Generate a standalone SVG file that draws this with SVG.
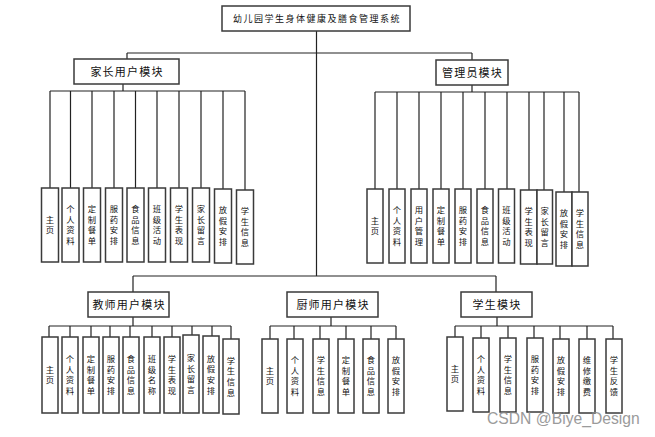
<svg xmlns="http://www.w3.org/2000/svg" width="655" height="437" viewBox="0 0 655 437">
<style>
.bx{fill:#fff;stroke:#3a3a3a;stroke-width:1.5}
.ln{stroke:#222;stroke-width:1.2;fill:none}
.t{font-family:"Noto Sans CJK SC","Liberation Sans",sans-serif;fill:#111}
.ti{font-size:9px;letter-spacing:1.5px}
.m{font-size:11px;letter-spacing:1.2px}
.c{font-family:"Liberation Sans","Noto Sans CJK SC",sans-serif;font-size:8.3px;fill:#111;text-anchor:middle}
.wm{font-family:"Liberation Sans",Arial,sans-serif;font-size:15.7px;fill:#8a8a8a;opacity:0.85}
</style>
<rect width="655" height="437" fill="#fff"/>
<g id="connectors">
<path class="ln" d="M316.5 31V276M127 53H472M127 53V59M472 53V60M123 84V91M472 85V92M133 276H496M133 276V292M496 276V292M133 317V326M331 317V326M497 317V326"/>
<path class="ln" d="M50 91H245M50 91V188M70.5 91V188M92 91V188M114 91V188M135.5 91V188M157 91V188M179 91V188M201 91V188M223 91V189M245 91V190"/>
<path class="ln" d="M375 92H579M375 92V189M397 92V189M419 92V189M441 92V189M463 92V189M485 92V189M507 92V189M529 92V190M544 92V190M564 92V192M579 92V192"/>
<path class="ln" d="M49 326H231M49 326V337M70 326V337M91 326V337M110 326V337M130 326V337M152 326V337M172 326V337M192 326V335M212 326V336M231 326V339"/>
<path class="ln" d="M270 326H396M270 326V339M294 326V339M320 326V339M346 326V339M371 326V339M396 326V339"/>
<path class="ln" d="M455 326H613M455 326V337M481 326V338M508 326V338M534 326V338M560 326V339M587 326V339M613 326V339"/>
</g>
<g id="root"><rect class="bx" x="222" y="6" width="188" height="25"/><text class="t ti" x="317" y="22" text-anchor="middle">幼儿园学生身体健康及膳食管理系统</text></g>
<g id="m-parent"><rect class="bx" x="74" y="59" width="105" height="25"/><text class="t m" x="127" y="75.5" text-anchor="middle">家长用户模块</text></g>
<g id="m-admin"><rect class="bx" x="436" y="60" width="72" height="25"/><text class="t m" x="472.5" y="76.5" text-anchor="middle">管理员模块</text></g>
<g id="m-teacher"><rect class="bx" x="88" y="292" width="81" height="25"/><text class="t m" x="129" y="308.5" text-anchor="middle">教师用户模块</text></g>
<g id="m-chef"><rect class="bx" x="287" y="292" width="91" height="25"/><text class="t m" x="333" y="308.5" text-anchor="middle">厨师用户模块</text></g>
<g id="m-student"><rect class="bx" x="461" y="292" width="71" height="25"/><text class="t m" x="497" y="308.5" text-anchor="middle">学生模块</text></g>

<g id="p1"><rect class="bx" x="41.5" y="188" width="17" height="74"/><text class="c"><tspan x="50" y="222.7">主</tspan><tspan x="50" y="233.4">页</tspan></text></g>
<g id="p2"><rect class="bx" x="62" y="188" width="17" height="74"/><text class="c"><tspan x="70.5" y="212">个</tspan><tspan x="70.5" y="222.7">人</tspan><tspan x="70.5" y="233.4">资</tspan><tspan x="70.5" y="244.1">料</tspan></text></g>
<g id="p3"><rect class="bx" x="83.5" y="188" width="17" height="74"/><text class="c"><tspan x="92" y="212">定</tspan><tspan x="92" y="222.7">制</tspan><tspan x="92" y="233.4">餐</tspan><tspan x="92" y="244.1">单</tspan></text></g>
<g id="p4"><rect class="bx" x="105.5" y="188" width="17" height="74"/><text class="c"><tspan x="114" y="212">服</tspan><tspan x="114" y="222.7">药</tspan><tspan x="114" y="233.4">安</tspan><tspan x="114" y="244.1">排</tspan></text></g>
<g id="p5"><rect class="bx" x="127" y="188" width="17" height="74"/><text class="c"><tspan x="135.5" y="212">食</tspan><tspan x="135.5" y="222.7">品</tspan><tspan x="135.5" y="233.4">信</tspan><tspan x="135.5" y="244.1">息</tspan></text></g>
<g id="p6"><rect class="bx" x="148.5" y="188" width="17" height="74"/><text class="c"><tspan x="157" y="212">班</tspan><tspan x="157" y="222.7">级</tspan><tspan x="157" y="233.4">活</tspan><tspan x="157" y="244.1">动</tspan></text></g>
<g id="p7"><rect class="bx" x="170.5" y="188" width="17" height="74"/><text class="c"><tspan x="179" y="212">学</tspan><tspan x="179" y="222.7">生</tspan><tspan x="179" y="233.4">表</tspan><tspan x="179" y="244.1">现</tspan></text></g>
<g id="p8"><rect class="bx" x="192.5" y="188" width="17" height="74"/><text class="c"><tspan x="201" y="212">家</tspan><tspan x="201" y="222.7">长</tspan><tspan x="201" y="233.4">留</tspan><tspan x="201" y="244.1">言</tspan></text></g>
<g id="p9"><rect class="bx" x="214.5" y="189" width="17" height="74"/><text class="c"><tspan x="223" y="213">放</tspan><tspan x="223" y="223.7">假</tspan><tspan x="223" y="234.4">安</tspan><tspan x="223" y="245.1">排</tspan></text></g>
<g id="p10"><rect class="bx" x="236.5" y="190" width="17" height="74"/><text class="c"><tspan x="245" y="214">学</tspan><tspan x="245" y="224.7">生</tspan><tspan x="245" y="235.4">信</tspan><tspan x="245" y="246.1">息</tspan></text></g>

<g id="a1"><rect class="bx" x="367" y="189" width="16" height="74"/><text class="c"><tspan x="375" y="223.7">主</tspan><tspan x="375" y="234.4">页</tspan></text></g>
<g id="a2"><rect class="bx" x="389" y="189" width="16" height="74"/><text class="c"><tspan x="397" y="213">个</tspan><tspan x="397" y="223.7">人</tspan><tspan x="397" y="234.4">资</tspan><tspan x="397" y="245.1">料</tspan></text></g>
<g id="a3"><rect class="bx" x="411" y="189" width="16" height="74"/><text class="c"><tspan x="419" y="213">用</tspan><tspan x="419" y="223.7">户</tspan><tspan x="419" y="234.4">管</tspan><tspan x="419" y="245.1">理</tspan></text></g>
<g id="a4"><rect class="bx" x="433" y="189" width="16" height="74"/><text class="c"><tspan x="441" y="213">定</tspan><tspan x="441" y="223.7">制</tspan><tspan x="441" y="234.4">餐</tspan><tspan x="441" y="245.1">单</tspan></text></g>
<g id="a5"><rect class="bx" x="455" y="189" width="16" height="74"/><text class="c"><tspan x="463" y="213">服</tspan><tspan x="463" y="223.7">药</tspan><tspan x="463" y="234.4">安</tspan><tspan x="463" y="245.1">排</tspan></text></g>
<g id="a6"><rect class="bx" x="477" y="189" width="16" height="74"/><text class="c"><tspan x="485" y="213">食</tspan><tspan x="485" y="223.7">品</tspan><tspan x="485" y="234.4">信</tspan><tspan x="485" y="245.1">息</tspan></text></g>
<g id="a7"><rect class="bx" x="498.5" y="189" width="16" height="74"/><text class="c"><tspan x="506.5" y="213">班</tspan><tspan x="506.5" y="223.7">级</tspan><tspan x="506.5" y="234.4">活</tspan><tspan x="506.5" y="245.1">动</tspan></text></g>
<g id="a8"><rect class="bx" x="520.5" y="190" width="16.5" height="74"/><text class="c"><tspan x="528.7" y="214">学</tspan><tspan x="528.7" y="224.7">生</tspan><tspan x="528.7" y="235.4">表</tspan><tspan x="528.7" y="246.1">现</tspan></text></g>
<g id="a9"><rect class="bx" x="537" y="190" width="15.5" height="74"/><text class="c"><tspan x="544.7" y="214">家</tspan><tspan x="544.7" y="224.7">长</tspan><tspan x="544.7" y="235.4">留</tspan><tspan x="544.7" y="246.1">言</tspan></text></g>
<g id="a10"><rect class="bx" x="556" y="192" width="16" height="74"/><text class="c"><tspan x="564" y="216">放</tspan><tspan x="564" y="226.7">假</tspan><tspan x="564" y="237.4">安</tspan><tspan x="564" y="248.1">排</tspan></text></g>
<g id="a11"><rect class="bx" x="572" y="192" width="16" height="74"/><text class="c"><tspan x="580" y="216">学</tspan><tspan x="580" y="226.7">生</tspan><tspan x="580" y="237.4">信</tspan><tspan x="580" y="248.1">息</tspan></text></g>

<g id="t1"><rect class="bx" x="42" y="337" width="16" height="76"/><text class="c"><tspan x="50" y="372.7">主</tspan><tspan x="50" y="383.4">页</tspan></text></g>
<g id="t2"><rect class="bx" x="62" y="337" width="16" height="76"/><text class="c"><tspan x="70" y="362">个</tspan><tspan x="70" y="372.7">人</tspan><tspan x="70" y="383.4">资</tspan><tspan x="70" y="394.1">料</tspan></text></g>
<g id="t3"><rect class="bx" x="83" y="337" width="16" height="76"/><text class="c"><tspan x="91" y="362">定</tspan><tspan x="91" y="372.7">制</tspan><tspan x="91" y="383.4">餐</tspan><tspan x="91" y="394.1">单</tspan></text></g>
<g id="t4"><rect class="bx" x="103" y="337" width="16" height="76"/><text class="c"><tspan x="111" y="362">服</tspan><tspan x="111" y="372.7">药</tspan><tspan x="111" y="383.4">安</tspan><tspan x="111" y="394.1">排</tspan></text></g>
<g id="t5"><rect class="bx" x="123" y="337" width="16" height="76"/><text class="c"><tspan x="131" y="362">食</tspan><tspan x="131" y="372.7">品</tspan><tspan x="131" y="383.4">信</tspan><tspan x="131" y="394.1">息</tspan></text></g>
<g id="t6"><rect class="bx" x="144" y="337" width="16" height="76"/><text class="c"><tspan x="152" y="362">班</tspan><tspan x="152" y="372.7">级</tspan><tspan x="152" y="383.4">名</tspan><tspan x="152" y="394.1">称</tspan></text></g>
<g id="t7"><rect class="bx" x="164" y="337" width="16" height="76"/><text class="c"><tspan x="172" y="362">学</tspan><tspan x="172" y="372.7">生</tspan><tspan x="172" y="383.4">表</tspan><tspan x="172" y="394.1">现</tspan></text></g>
<g id="t8"><rect class="bx" x="183" y="335" width="16" height="78"/><text class="c"><tspan x="191" y="361">家</tspan><tspan x="191" y="371.7">长</tspan><tspan x="191" y="382.4">留</tspan><tspan x="191" y="393.1">言</tspan></text></g>
<g id="t9"><rect class="bx" x="203" y="336" width="16" height="77"/><text class="c"><tspan x="211" y="361.5">放</tspan><tspan x="211" y="372.2">假</tspan><tspan x="211" y="382.9">安</tspan><tspan x="211" y="393.6">排</tspan></text></g>
<g id="t10"><rect class="bx" x="223" y="339" width="16" height="75"/><text class="c"><tspan x="231" y="363.5">学</tspan><tspan x="231" y="374.2">生</tspan><tspan x="231" y="384.9">信</tspan><tspan x="231" y="395.6">息</tspan></text></g>

<g id="c1"><rect class="bx" x="262" y="339" width="16" height="74"/><text class="c"><tspan x="270" y="373.7">主</tspan><tspan x="270" y="384.4">页</tspan></text></g>
<g id="c2"><rect class="bx" x="287" y="339" width="16" height="74"/><text class="c"><tspan x="295" y="363">个</tspan><tspan x="295" y="373.7">人</tspan><tspan x="295" y="384.4">资</tspan><tspan x="295" y="395.1">料</tspan></text></g>
<g id="c3"><rect class="bx" x="313" y="339" width="16" height="74"/><text class="c"><tspan x="321" y="363">学</tspan><tspan x="321" y="373.7">生</tspan><tspan x="321" y="384.4">信</tspan><tspan x="321" y="395.1">息</tspan></text></g>
<g id="c4"><rect class="bx" x="338" y="339" width="16" height="74"/><text class="c"><tspan x="346" y="363">定</tspan><tspan x="346" y="373.7">制</tspan><tspan x="346" y="384.4">餐</tspan><tspan x="346" y="395.1">单</tspan></text></g>
<g id="c5"><rect class="bx" x="363" y="339" width="16" height="74"/><text class="c"><tspan x="371" y="363">食</tspan><tspan x="371" y="373.7">品</tspan><tspan x="371" y="384.4">信</tspan><tspan x="371" y="395.1">息</tspan></text></g>
<g id="c6"><rect class="bx" x="388" y="339" width="16" height="74"/><text class="c"><tspan x="396" y="363">放</tspan><tspan x="396" y="373.7">假</tspan><tspan x="396" y="384.4">安</tspan><tspan x="396" y="395.1">排</tspan></text></g>

<g id="s1"><rect class="bx" x="447" y="337" width="16" height="74"/><text class="c"><tspan x="455" y="371.7">主</tspan><tspan x="455" y="382.4">页</tspan></text></g>
<g id="s2"><rect class="bx" x="473" y="338" width="16" height="74"/><text class="c"><tspan x="481" y="362">个</tspan><tspan x="481" y="372.7">人</tspan><tspan x="481" y="383.4">资</tspan><tspan x="481" y="394.1">料</tspan></text></g>
<g id="s3"><rect class="bx" x="500" y="338" width="16" height="74"/><text class="c"><tspan x="508" y="362">学</tspan><tspan x="508" y="372.7">生</tspan><tspan x="508" y="383.4">信</tspan><tspan x="508" y="394.1">息</tspan></text></g>
<g id="s4"><rect class="bx" x="527" y="338" width="16" height="74"/><text class="c"><tspan x="535" y="362">服</tspan><tspan x="535" y="372.7">药</tspan><tspan x="535" y="383.4">安</tspan><tspan x="535" y="394.1">排</tspan></text></g>
<g id="s5"><rect class="bx" x="553" y="339" width="16" height="74"/><text class="c"><tspan x="561" y="363">放</tspan><tspan x="561" y="373.7">假</tspan><tspan x="561" y="384.4">安</tspan><tspan x="561" y="395.1">排</tspan></text></g>
<g id="s6"><rect class="bx" x="579" y="339" width="16" height="74"/><text class="c"><tspan x="587" y="363">维</tspan><tspan x="587" y="373.7">修</tspan><tspan x="587" y="384.4">缴</tspan><tspan x="587" y="395.1">费</tspan></text></g>
<g id="s7"><rect class="bx" x="606" y="339" width="16" height="74"/><text class="c"><tspan x="614" y="363">学</tspan><tspan x="614" y="373.7">生</tspan><tspan x="614" y="384.4">反</tspan><tspan x="614" y="395.1">馈</tspan></text></g>

<text class="wm" x="487" y="424">CSDN @Biye_Design</text>
</svg>
